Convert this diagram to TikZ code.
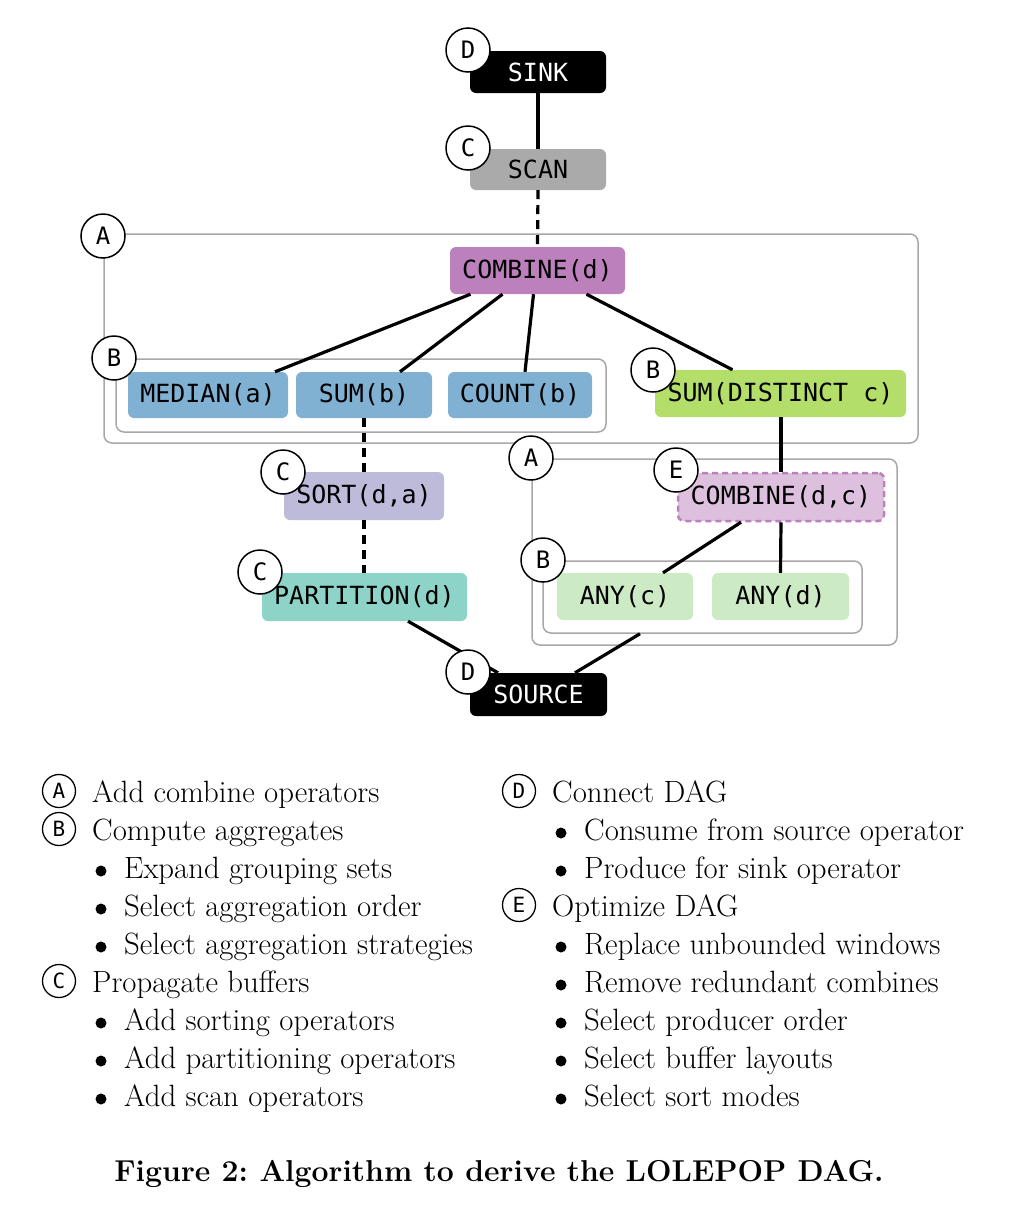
\documentclass[tikz,border=0pt]{standalone}
\usepackage{fontspec}
\setmonofont{DejaVu Sans Mono}
\newfontfamily\circfont{DejaVu Sans Mono}
\definecolor{scang}{HTML}{AAAAAA}
\definecolor{combp}{HTML}{BC80BD}
\definecolor{combl}{HTML}{DDBFDE}
\definecolor{aggb}{HTML}{80B1D3}
\definecolor{aggg}{HTML}{B3DE69}
\definecolor{sortl}{HTML}{BEBADA}
\definecolor{partt}{HTML}{8DD3C7}
\definecolor{anyg}{HTML}{CCEBC5}
\definecolor{grpgray}{HTML}{A8A8A8}
\frenchspacing
\begin{document}
\begin{tikzpicture}[x=1pt,y=-1pt,
  opshape/.style={rectangle, rounded corners=6pt, inner sep=0pt, draw=none},
  optxt/.style={inner sep=0pt, font=\ttfamily\fontsize{25}{30}\selectfont},
  grp/.style={rectangle, draw=grpgray, line width=1.5pt, rounded corners=8pt, inner sep=0pt},
  edge/.style={line width=3.2pt},
  dedge/.style={line width=3.2pt, dash pattern=on 9pt off 6pt},
  stepc/.style={circle, draw=black, line width=1.5pt, fill=white, minimum size=44pt, inner sep=0pt, font=\circfont\fontsize{24}{24}\selectfont},
  legc/.style={circle, draw=black, line width=1.3pt, fill=white, minimum size=33pt, inner sep=0pt, font=\circfont\fontsize{21}{21}\selectfont},
  legt/.style={anchor=base west, inner sep=0pt, font=\fontsize{30.8}{36}\selectfont},
  bul/.style={circle, fill=black, minimum size=11pt, inner sep=0pt}
]
\useasboundingbox (0,0) rectangle (1018,1208);

% group boxes
\node[grp, minimum width=814pt, minimum height=209pt] (A1) at (511,338.5) {};
\node[grp, minimum width=490pt, minimum height=73pt] (B1) at (361,395.5) {};
\node[grp, minimum width=365pt, minimum height=186pt] (A2) at (714.5,552) {};
\node[grp, minimum width=319pt, minimum height=72pt] (B2) at (702.5,597) {};

% operator shapes
\node[opshape, fill=black, minimum width=136pt, minimum height=42pt] (sink) at (538,72) {};
\node[opshape, fill=scang, minimum width=136pt, minimum height=41pt] (scan) at (538,169.5) {};
\node[opshape, fill=combp, minimum width=175pt, minimum height=47pt] (cd) at (537.5,270.5) {};
\node[opshape, fill=aggb, minimum width=160pt, minimum height=46pt] (med) at (208,395) {};
\node[opshape, fill=aggb, minimum width=136pt, minimum height=46pt] (sumb) at (364,395) {};
\node[opshape, fill=aggb, minimum width=144pt, minimum height=46pt] (cnt) at (520,395) {};
\node[opshape, fill=aggg, minimum width=251pt, minimum height=47pt] (sumd) at (780.5,393.5) {};
\node[opshape, fill=sortl, minimum width=160pt, minimum height=48pt] (sort) at (364,496) {};
\node[opshape, fill=partt, minimum width=205pt, minimum height=48pt] (part) at (364.5,597) {};
\node[opshape, fill=combl, draw=combp, line width=2.5pt, dash pattern=on 6pt off 4pt, minimum width=206pt, minimum height=48pt] (cdc) at (781,497) {};
\node[opshape, fill=anyg, minimum width=136pt, minimum height=47pt] (anyc) at (625,596.5) {};
\node[opshape, fill=anyg, minimum width=137pt, minimum height=47pt] (anyd) at (780.5,596.5) {};
\node[opshape, fill=black, minimum width=137pt, minimum height=43pt] (src) at (538.5,694.5) {};

% edges
\draw[edge] (sink.south) -- (scan.north);
\draw[dedge] (scan.south) -- (cd.north);
\draw[edge] ([xshift=-67pt]cd.south) -- ([xshift=67pt]med.north);
\draw[edge] ([xshift=-35pt]cd.south) -- ([xshift=36pt]sumb.north);
\draw[edge] ([xshift=-4pt]cd.south) -- ([xshift=5pt]cnt.north);
\draw[edge] ([xshift=49pt]cd.south) -- ([xshift=-48pt]sumd.north);
\draw[dedge] (sumb.south) -- (sort.north);
\draw[dedge] (sort.south) -- ([xshift=-0.5pt]part.north);
\draw[edge] ([xshift=0.5pt]sumd.south) -- (cdc.north);
\draw[edge] ([xshift=-40pt]cdc.south) -- ([xshift=38pt]anyc.north);
\draw[edge] (cdc.south) -- (anyd.north);
\draw[edge] ([xshift=43.5pt]part.south) -- ([xshift=-40.5pt]src.north);
\draw[edge] ([xshift=-62.5pt]B2.south) -- ([xshift=36.5pt]src.north);

% step circles
\node[stepc] (cD1) at (468,50) {D};
\node[stepc] (cC1) at (468,148) {C};
\node[stepc] (cA1) at (103,236) {A};
\node[stepc] (cB1) at (114,358) {B};
\node[stepc] (cB2) at (653,370) {B};
\node[stepc] (cA2) at (531,458) {A};
\node[stepc] (cE) at (676,470) {E};
\node[stepc] (cC2) at (283,472) {C};
\node[stepc] (cB3) at (543,560) {B};
\node[stepc] (cC3) at (260,572) {C};
\node[stepc] (cD2) at (468,672) {D};

% operator texts
\node[optxt, text=white] (sinkt) at (sink) {SINK};
\node[optxt] (scant) at (scan) {SCAN};
\node[optxt] (cdt) at (cd) {COMBINE(d)};
\node[optxt] (medt) at (med) {MEDIAN(a)};
\node[optxt] (sumbt) at (sumb) {SUM(b)};
\node[optxt] (cntt) at (cnt) {COUNT(b)};
\node[optxt] (sumdt) at (sumd) {SUM(DISTINCT c)};
\node[optxt] (sortt) at (sort) {SORT(d,a)};
\node[optxt] (partt) at (part) {PARTITION(d)};
\node[optxt] (cdct) at (cdc) {COMBINE(d,c)};
\node[optxt] (anyct) at (anyc) {ANY(c)};
\node[optxt] (anydt) at (anyd) {ANY(d)};
\node[optxt, text=white] (srct) at (src) {SOURCE};

% legend left
\node[legc] (lA) at (59,791) {A};
\node[legt] (tA) at (92,802) {Add combine operators};
\node[legc] (lB) at (59,829) {B};
\node[legt] (tB) at (92,840) {Compute aggregates};
\node[bul] (b1) at (101,871) {};
\node[legt] (tB1) at (124,878) {Expand grouping sets};
\node[bul] (b2) at (101,909) {};
\node[legt] (tB2) at (124,916) {Select aggregation order};
\node[bul] (b3) at (101,947) {};
\node[legt] (tB3) at (124,954) {Select aggregation strategies};
\node[legc] (lC) at (59,981) {C};
\node[legt] (tC) at (92,992) {Propagate buffers};
\node[bul] (b4) at (101,1023) {};
\node[legt] (tC1) at (124,1030) {Add sorting operators};
\node[bul] (b5) at (101,1061) {};
\node[legt] (tC2) at (124,1068) {Add partitioning operators};
\node[bul] (b6) at (101,1099) {};
\node[legt] (tC3) at (124,1106) {Add scan operators};

% legend right
\node[legc] (lD) at (519,791) {D};
\node[legt] (tD) at (552,802) {Connect DAG};
\node[bul] (b7) at (561,833) {};
\node[legt] (tD1) at (584,840) {Consume from source operator};
\node[bul] (b8) at (561,871) {};
\node[legt] (tD2) at (584,878) {Produce for sink operator};
\node[legc] (lE) at (519,905) {E};
\node[legt] (tE) at (552,916) {Optimize DAG};
\node[bul] (b9) at (561,947) {};
\node[legt] (tE1) at (584,954) {Replace unbounded windows};
\node[bul] (b10) at (561,985) {};
\node[legt] (tE2) at (584,992) {Remove redundant combines};
\node[bul] (b11) at (561,1023) {};
\node[legt] (tE3) at (584,1030) {Select producer order};
\node[bul] (b12) at (561,1061) {};
\node[legt] (tE4) at (584,1068) {Select buffer layouts};
\node[bul] (b13) at (561,1099) {};
\node[legt] (tE5) at (584,1106) {Select sort modes};

% caption
\node[anchor=base, inner sep=0pt, font=\bfseries\fontsize{30.2}{35}\selectfont] (cap) at (499,1181) {Figure 2: Algorithm to derive the LOLEPOP DAG.};
\end{tikzpicture}
\end{document}
